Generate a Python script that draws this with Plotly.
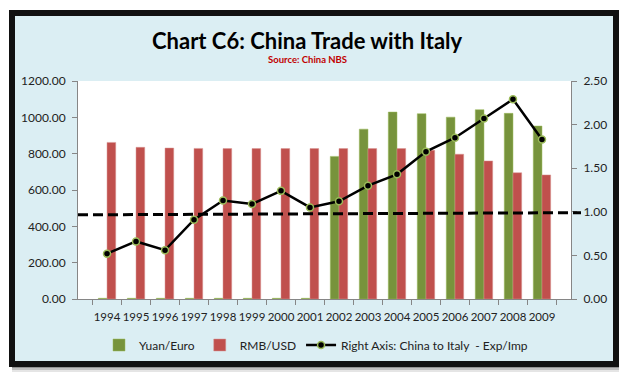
import plotly.graph_objects as go

years = ["1994", "1995", "1996", "1997", "1998", "1999", "2000", "2001",
         "2002", "2003", "2004", "2005", "2006", "2007", "2008", "2009"]
yuan_euro = [4, 4, 4, 4, 4, 4, 4, 4, 785, 935, 1029, 1020, 1001, 1042, 1022, 952]
rmb_usd = [862, 835, 831, 829, 828, 828, 828, 828, 828, 828, 828, 819, 797, 760, 695, 683]
exp_imp = [0.52, 0.66, 0.56, 0.91, 1.13, 1.09, 1.24, 1.05, 1.12, 1.30, 1.43, 1.69, 1.85, 2.07, 2.29, 1.83]
parity_line = [0.965, 0.99]

# page body has an 8px margin: work in reference pixel coords, shift by OFF
OFF = 8
W, H = 627 - OFF, 378 - OFF
L, R, T, B = 78, 571, 81, 299  # plot area in reference pixels


def px(x):
    return (x - L) / (R - L)


def py(y):
    return (B - y) / (B - T)


FONT = "Lato"

fig = go.Figure()
fig.add_trace(go.Bar(x=years, y=yuan_euro, name="Yuan/Euro",
                     marker=dict(color="#77933C", line=dict(color="#9BBB59", width=0.5))))
fig.add_trace(go.Bar(x=years, y=rmb_usd, name="RMB/USD",
                     marker=dict(color="#C0504D", line=dict(color="#D99694", width=0.5))))
fig.add_trace(go.Scatter(x=years, y=exp_imp, name="Right Axis: China to Italy  - Exp/Imp",
                         yaxis="y2", mode="lines+markers",
                         line=dict(color="black", width=2.5),
                         marker=dict(color="black", size=7, line=dict(color="#9BBB59", width=1.5))))

shapes = []
# soft shadow
for i, op in enumerate([0.10, 0.16, 0.24]):
    d = 5 - 2 * i
    shapes.append(dict(type="rect", xref="paper", yref="paper", layer="below",
                       x0=px(12), x1=px(620 + d), y0=py(367 + d), y1=py(14),
                       fillcolor=f"rgba(0,0,0,{op})", line=dict(width=0)))
# frame
shapes.append(dict(type="rect", xref="paper", yref="paper", layer="below",
                   x0=px(9), x1=px(619), y0=py(367), y1=py(10),
                   fillcolor="#111111", line=dict(width=0)))
shapes.append(dict(type="rect", xref="paper", yref="paper", layer="below",
                   x0=px(15), x1=px(613), y0=py(361), y1=py(16),
                   fillcolor="#DBEEF3", line=dict(width=0)))
# plot area
shapes.append(dict(type="rect", xref="paper", yref="paper", layer="below",
                   x0=0, x1=1, y0=0, y1=1, fillcolor="white", line=dict(width=0)))
# dashed parity line
shapes.append(dict(type="line", xref="paper", yref="y2", layer="above",
                   x0=0, x1=px(581), y0=parity_line[0], y1=parity_line[1],
                   line=dict(color="black", width=3, dash="10px,5px")))

annotations = [
    dict(text="<b>Chart C6: China Trade with Italy</b>", xref="paper", yref="paper",
         x=px(307), y=py(40.5), showarrow=False, xanchor="center", yanchor="middle",
         font=dict(family=FONT, size=22, color="black")),
    dict(text="<b>Source: China NBS</b>", xref="paper", yref="paper",
         x=px(307), y=py(59.5), showarrow=False, xanchor="center", yanchor="middle",
         font=dict(family=FONT, size=9.5, color="#C00000")),
]

axis_font = dict(family=FONT, size=12, color="#222222")
fig.update_layout(
    width=W, height=H,
    margin=dict(l=L - OFF, r=W - (R - OFF), t=T - OFF, b=H - (B - OFF), pad=0),
    paper_bgcolor="white", plot_bgcolor="rgba(0,0,0,0)",
    barmode="group", bargap=0.4, bargroupgap=0,
    shapes=shapes, annotations=annotations,
    showlegend=True,
    legend=dict(orientation="h", x=px(316), xanchor="center", y=py(345), yanchor="middle",
                font=dict(family=FONT, size=12, color="#222222"), bgcolor="rgba(0,0,0,0)",
                traceorder="normal", itemwidth=30),
    xaxis=dict(type="category", tickfont=dict(family=FONT, size=11.5, color="#222222"),
               showgrid=False, tickangle=0,
               showline=True, linecolor="#868686", linewidth=1,
               ticks="outside", tickson="boundaries", ticklen=5, tickcolor="#868686",
               ticklabelstandoff=7),
    yaxis=dict(range=[0, 1200], dtick=200, tickformat=".2f", tickfont=axis_font,
               showgrid=False, zeroline=False, showline=True, linecolor="#868686",
               ticks="outside", ticklen=5, tickcolor="#868686", ticklabelstandoff=4),
    yaxis2=dict(range=[0, 2.5], dtick=0.5, tickformat=".2f", tickfont=axis_font,
                overlaying="y", side="right", showgrid=False, zeroline=False,
                showline=True, linecolor="#868686",
                ticks="outside", ticklen=5, tickcolor="#868686", ticklabelstandoff=4),
    font=dict(family=FONT),
)

fig.write_html("out.html")
